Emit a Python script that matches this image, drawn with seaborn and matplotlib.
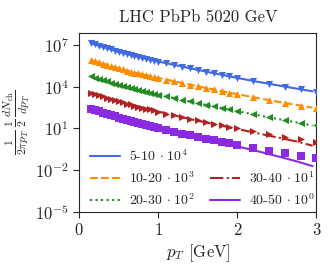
import matplotlib
matplotlib.use("Agg")
import matplotlib.pyplot as plt
from matplotlib.lines import Line2D
import seaborn as sns
import numpy as np
import pandas as pd

# centrality classes, scale exponents and colours
centralities = ['5-10', '10-20', '20-30', '30-40', '40-50']
exponents = [4, 3, 2, 1, 0]
colors = ['royalblue', 'darkorange', 'forestgreen', 'firebrick', 'blueviolet']
markers = ['v', '^', '<', '>', 's']
linestyles = ['-', '--', ':', '-.', '-']

# data points: pT [GeV] and log10 of the (unscaled) spectra
pt_data = [0.15, 0.20, 0.25, 0.30, 0.35, 0.40, 0.45, 0.50, 0.55, 0.60, 0.65, 0.70,
           0.75, 0.80, 0.85, 0.90, 0.95, 1.0, 1.1, 1.2, 1.3, 1.4, 1.5, 1.6, 1.7,
           1.8, 1.9, 2.0, 2.2, 2.4, 2.6, 2.8, 3.0]
data_5_10 = [3.12, 3.03, 2.94, 2.85, 2.76, 2.67, 2.58, 2.50, 2.42, 2.34, 2.27, 2.20,
             2.13, 2.06, 1.99, 1.92, 1.86, 1.80, 1.68, 1.56, 1.44, 1.32, 1.20, 1.08,
             0.96, 0.85, 0.74, 0.63, 0.41, 0.20, 0.00, -0.20, -0.38]
data_10_20 = [2.92, 2.83, 2.74, 2.65, 2.56, 2.47, 2.39, 2.31, 2.23, 2.15, 2.08, 2.01,
              1.94, 1.87, 1.81, 1.74, 1.68, 1.62, 1.50, 1.38, 1.26, 1.14, 1.02, 0.90,
              0.79, 0.68, 0.57, 0.46, 0.24, 0.03, -0.17, -0.37, -0.55]
data_20_30 = [2.73, 2.64, 2.55, 2.46, 2.37, 2.28, 2.20, 2.12, 2.04, 1.96, 1.89, 1.82,
              1.75, 1.68, 1.61, 1.54, 1.48, 1.42, 1.30, 1.17, 1.05, 0.93, 0.81, 0.69,
              0.58, 0.47, 0.36, 0.25, 0.03, -0.19, -0.39, -0.59, -0.78]
data_30_40 = [2.56, 2.47, 2.38, 2.29, 2.20, 2.11, 2.02, 1.94, 1.86, 1.78, 1.71, 1.63,
              1.56, 1.49, 1.42, 1.35, 1.28, 1.18, 1.05, 0.92, 0.80, 0.68, 0.56, 0.45,
              0.34, 0.23, 0.12, 0.02, -0.20, -0.42, -0.63, -0.80, -0.96]
data_40_50 = [2.40, 2.31, 2.22, 2.12, 2.03, 1.94, 1.85, 1.76, 1.68, 1.60, 1.52, 1.44,
              1.36, 1.29, 1.22, 1.15, 1.08, 1.01, 0.87, 0.74, 0.61, 0.49, 0.37, 0.25,
              0.14, 0.03, -0.08, -0.18, -0.40, -0.61, -0.80, -0.98, -1.15]

# model curves: pT [GeV] and log10 of the (unscaled) spectra
pt_model = [0.15, 0.25, 0.5, 0.75, 1.0, 1.25, 1.5, 1.75, 2.0, 2.25, 2.5, 2.75, 2.95]
model_5_10 = [3.12, 2.94, 2.50, 2.13, 1.80, 1.50, 1.20, 0.90, 0.62, 0.35, 0.10, -0.15, -0.34]
model_10_20 = [2.92, 2.74, 2.31, 1.94, 1.62, 1.32, 1.02, 0.73, 0.45, 0.18, -0.08, -0.33, -0.52]
model_20_30 = [2.73, 2.55, 2.12, 1.75, 1.42, 1.11, 0.80, 0.51, 0.23, -0.05, -0.32, -0.58, -0.80]
model_30_40 = [2.56, 2.38, 1.94, 1.56, 1.20, 0.86, 0.54, 0.24, -0.05, -0.35, -0.65, -0.95, -1.25]
model_40_50 = [2.40, 2.22, 1.76, 1.36, 1.00, 0.66, 0.33, 0.01, -0.30, -0.64, -1.00, -1.38, -1.72]

data_sets = [data_5_10, data_10_20, data_20_30, data_30_40, data_40_50]
model_sets = [model_5_10, model_10_20, model_20_30, model_30_40, model_40_50]

sns.set_style("ticks")
plt.rcParams['font.family'] = 'serif'
plt.rcParams['font.serif'] = ['cmr10']
plt.rcParams['mathtext.fontset'] = 'cm'
plt.rcParams['axes.formatter.use_mathtext'] = True
plt.rcParams['axes.unicode_minus'] = False

fig = plt.figure(figsize=(3.31, 2.69), dpi=100)
ax = fig.add_axes([0.239, 0.213, 0.717, 0.664])

handles = []
for i, cent in enumerate(centralities):
    scale = 10.0 ** exponents[i]
    model_df = pd.DataFrame({'pt': pt_model, 'y': 10 ** np.array(model_sets[i]) * scale})
    data_df = pd.DataFrame({'pt': pt_data, 'y': 10 ** np.array(data_sets[i]) * scale})
    sns.lineplot(data=model_df, x='pt', y='y', ax=ax, color=colors[i],
                 linestyle=linestyles[i], linewidth=1.5)
    sns.scatterplot(data=data_df, x='pt', y='y', ax=ax, color=colors[i],
                    marker=markers[i], s=26, linewidth=0, zorder=3)
    handles.append(Line2D([], [], color=colors[i], linestyle=linestyles[i], linewidth=1.5,
                          label=cent + r' $\cdot\ 10^{%d}$' % exponents[i]))

ax.set_yscale('log')
ax.set_xlim(0, 3)
ax.set_ylim(1e-5, 7e7)
ax.set_xticks([0, 1, 2, 3])
ax.set_yticks([1e-5, 1e-2, 1e1, 1e4, 1e7])
ax.minorticks_off()
ax.tick_params(labelsize=12, length=4)
ax.set_xlabel(r'$p_T$ [GeV]', fontsize=12, labelpad=3)
ax.set_ylabel(r'$\frac{1}{2\pi p_T}\,\frac{1}{2}\,\frac{dN_{\rm ch}}{dp_T}$', fontsize=12, labelpad=2)
ax.set_title('LHC PbPb 5020 GeV', fontsize=12, pad=8)

blank = Line2D([], [], color='none', label=' ')
leg_handles = [handles[0], handles[1], handles[2], blank, handles[3], handles[4]]
ax.legend(handles=leg_handles, loc='lower left', ncol=2, frameon=False, fontsize=10,
          columnspacing=1.1, labelspacing=0.45, handlelength=2.1, handletextpad=0.7,
          borderaxespad=0.15, borderpad=0.15, bbox_to_anchor=(0.03, 0.0))

fig.savefig('out.png', dpi=100)
